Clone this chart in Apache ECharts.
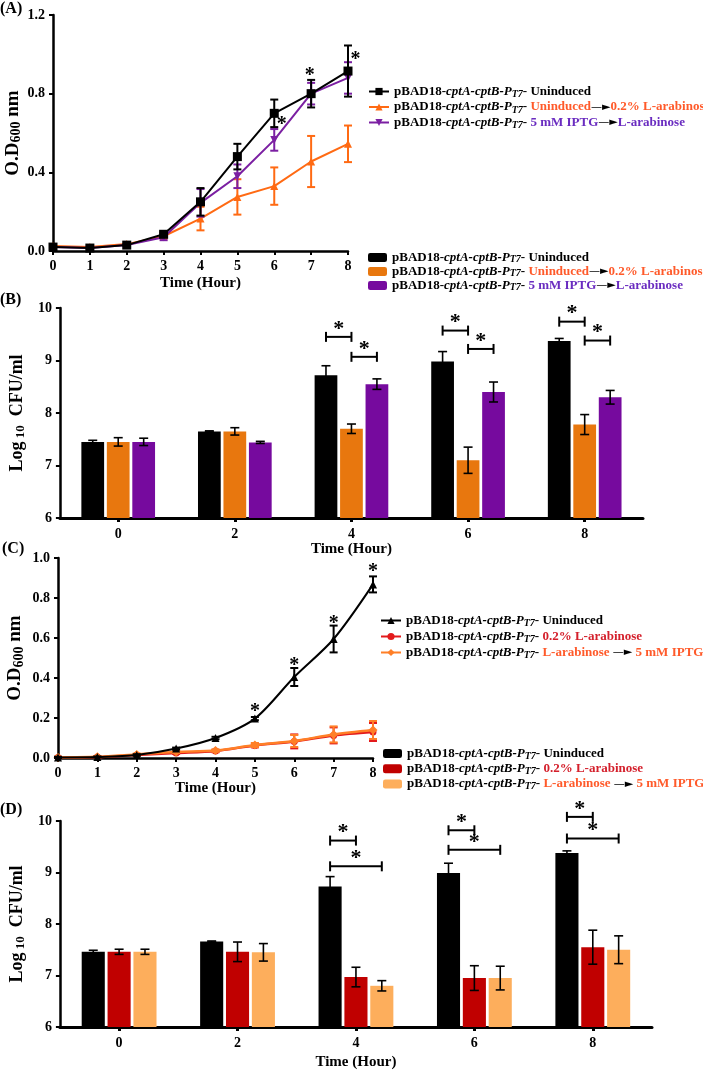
<!DOCTYPE html>
<html>
<head>
<meta charset="utf-8">
<script src="https://cdn.jsdelivr.net/npm/echarts@6/dist/echarts.min.js"></script>
<style>
  html, body { margin: 0; padding: 0; background: #fff; }
  #chart { width: 703px; height: 1071px; }
</style>
</head>
<body>
<div id="chart"></div>
<script>
const SERIF = '"Liberation Serif", "Times New Roman", serif';

// ---- Panel A: O.D600 growth curves ----
const hoursA = [0, 1, 2, 3, 4, 5, 6, 7, 8];
const odA_uninduced     = [0.02, 0.015, 0.03, 0.085, 0.25, 0.48, 0.70, 0.80, 0.915];
const odA_uninduced_err = [0.005, 0.005, 0.005, 0.01, 0.07, 0.065, 0.07, 0.07, 0.13];
const odA_arabinose     = [0.025, 0.02, 0.035, 0.075, 0.165, 0.275, 0.33, 0.455, 0.545];
const odA_arabinose_err = [0.005, 0.005, 0.005, 0.01, 0.06, 0.09, 0.095, 0.13, 0.093];
const odA_iptg          = [0.02, 0.015, 0.03, 0.07, 0.245, 0.38, 0.565, 0.80, 0.88];
const odA_iptg_err      = [0.005, 0.005, 0.005, 0.015, 0.07, 0.06, 0.055, 0.055, 0.08];
const starsA = [[6.2, 0.66], [6.96, 0.91], [8.2, 0.99]];

// ---- Panel B: Log10 CFU/ml ----
const timeCats = ['0', '2', '4', '6', '8'];
const cfuB_uninduced     = [7.45, 7.65, 8.72, 8.98, 9.37];
const cfuB_uninduced_err = [0.03, 0.01, 0.18, 0.19, 0.05];
const cfuB_arabinose     = [7.45, 7.65, 7.70, 7.10, 7.78];
const cfuB_arabinose_err = [0.08, 0.07, 0.09, 0.25, 0.19];
const cfuB_iptg          = [7.45, 7.44, 8.55, 8.40, 8.30];
const cfuB_iptg_err      = [0.07, 0.02, 0.10, 0.19, 0.13];
// [category, y, from bar, to bar]
const bracketsB = [[2, 9.45, 0, 1], [2, 9.07, 1, 2], [3, 9.57, 0, 1], [3, 9.22, 1, 2], [4, 9.74, 0, 1], [4, 9.38, 1, 2]];

// ---- Panel C: O.D600 growth curves ----
const hoursC = [0, 1, 2, 3, 4, 5, 6, 7, 8];
const odC_uninduced     = [0.003, 0.005, 0.015, 0.047, 0.10, 0.197, 0.405, 0.595, 0.868];
const odC_uninduced_err = [0.003, 0.003, 0.004, 0.005, 0.006, 0.008, 0.045, 0.067, 0.04];
const odC_arabinose     = [0.003, 0.005, 0.015, 0.025, 0.035, 0.063, 0.083, 0.113, 0.13];
const odC_arabinose_err = [0.003, 0.003, 0.004, 0.005, 0.006, 0.01, 0.035, 0.04, 0.045];
const odC_switch        = [0.003, 0.006, 0.018, 0.03, 0.037, 0.065, 0.085, 0.118, 0.14];
const odC_switch_err    = [0.003, 0.003, 0.004, 0.005, 0.006, 0.01, 0.03, 0.04, 0.045];
const starsC = [[5, 0.25], [6, 0.48], [7, 0.69], [8, 0.95]];

// ---- Panel D: Log10 CFU/ml ----
const cfuD_uninduced     = [7.46, 7.66, 8.73, 8.99, 9.38];
const cfuD_uninduced_err = [0.03, 0.01, 0.19, 0.19, 0.04];
const cfuD_arabinose     = [7.46, 7.46, 6.97, 6.95, 7.55];
const cfuD_arabinose_err = [0.05, 0.19, 0.19, 0.24, 0.33];
const cfuD_switch        = [7.46, 7.45, 6.80, 6.95, 7.50];
const cfuD_switch_err    = [0.05, 0.17, 0.10, 0.23, 0.27];
const bracketsD = [[2, 9.62, 0, 1], [2, 9.12, 0, 2], [3, 9.82, 0, 1], [3, 9.44, 0, 2], [4, 10.08, 0, 1], [4, 9.66, 0, 2]];

const C_BLACK = '#000000';
const C_ORANGE_LINE = '#FF6A13';
const C_PURPLE_LINE = '#7B1FA2';
const C_ORANGE_BAR = '#E8770E';
const C_PURPLE_BAR = '#760A9E';
const C_RED_LINE = '#E31A1C';
const C_ORANGE2_LINE = '#FF7F27';
const C_RED_BAR = '#C00000';
const C_LIGHT_BAR = '#FDAE5C';

const BAR_FRAC = 0.195;
const BAR_GAP = 0.12;

function makeRich(lh) {
  const base = { fontFamily: SERIF, fontWeight: 'bold', fontSize: 13, color: '#000', lineHeight: lh };
  return {
    b: base,
    i: Object.assign({}, base, { fontStyle: 'italic' }),
    s: { fontFamily: SERIF, fontWeight: 'bold', fontStyle: 'italic', fontSize: 10, color: '#000', lineHeight: 9, verticalAlign: 'bottom' },
    o: Object.assign({}, base, { color: '#FF5A2A' }),
    p: Object.assign({}, base, { color: '#6A2CC0' }),
    r: Object.assign({}, base, { color: '#D4202C' }),
    k: { fontFamily: '"DejaVu Sans"', fontSize: 11, color: '#000', lineHeight: lh }
  };
}

const PREFIX = '{b|pBAD18-}{i|cptA-cptB-P}{s|T7}{b|- }';
const ARROW = '{k|\u2014\u25BA}';
const legendLabels = {
  A1: PREFIX + '{b|Uninduced}',
  A2: PREFIX + '{o|Uninduced}' + ARROW + '{o|0.2% L-arabinose}',
  A3: PREFIX + '{p|5 mM IPTG}' + ARROW + '{p|L-arabinose}',
  B1: PREFIX + '{b|Uninduced}',
  B2: PREFIX + '{o|Uninduced}' + ARROW + '{o|0.2% L-arabinose}',
  B3: PREFIX + '{p|5 mM IPTG}' + ARROW + '{p|L-arabinose}',
  C1: PREFIX + '{b|Uninduced}',
  C2: PREFIX + '{r|0.2% L-arabinose}',
  C3: PREFIX + '{o|L-arabinose }' + ARROW + '{o| 5 mM IPTG}',
  D1: PREFIX + '{b|Uninduced}',
  D2: PREFIX + '{r|0.2% L-arabinose}',
  D3: PREFIX + '{o|L-arabinose }' + ARROW + '{o| 5 mM IPTG}'
};

function legendFor(names, left, top, lh, gap, w, h) {
  return {
    orient: 'vertical', left: left, top: top, padding: 0,
    itemWidth: w, itemHeight: h, itemGap: gap,
    data: names,
    formatter: function (name) { return legendLabels[name]; },
    textStyle: { rich: makeRich(lh) },
    selectedMode: false
  };
}

const axisLabelStyle = { fontFamily: SERIF, fontWeight: 'bold', fontSize: 14, color: '#000' };
function nameStyle(size, subSize) {
  return {
    fontFamily: SERIF, fontWeight: 'bold', fontSize: size, color: '#000',
    rich: {
      a: { fontFamily: SERIF, fontWeight: 'bold', fontSize: size, color: '#000', lineHeight: size + 2 },
      s: { fontFamily: SERIF, fontWeight: 'bold', fontSize: subSize, color: '#000', lineHeight: subSize - 2, verticalAlign: 'bottom' }
    }
  };
}

function valueAxis(grid, min, max, interval, digits, extra) {
  return Object.assign({
    type: 'value', gridIndex: grid, min: min, max: max, interval: interval,
    axisLine: { show: true, lineStyle: { color: '#000', width: 2.5 } },
    axisTick: { show: true, length: 4, lineStyle: { color: '#000', width: 2 } },
    axisLabel: Object.assign({ margin: 8, formatter: function (v) { return v.toFixed(digits); } }, axisLabelStyle),
    splitLine: { show: false },
    nameTextStyle: nameStyle(15, 11)
  }, extra || {});
}

function categoryAxis(grid, gap) {
  return {
    type: 'category', gridIndex: grid, data: timeCats,
    axisLine: { show: true, lineStyle: { color: '#000', width: 3 } },
    axisTick: { show: true, alignWithLabel: true, length: 4, lineStyle: { color: '#000', width: 3 } },
    axisLabel: Object.assign({ margin: 9 }, axisLabelStyle),
    name: 'Time (Hour)', nameLocation: 'middle', nameGap: gap,
    nameTextStyle: nameStyle(15, 11)
  };
}

function lineErrorSeries(ax, xs, means, errs, color, cap, z) {
  return {
    type: 'custom', xAxisIndex: ax, yAxisIndex: ax, z: z, silent: true,
    data: xs.map(function (x, i) { return [x, means[i], errs[i]]; }),
    renderItem: function (params, api) {
      const x = api.value(0), m = api.value(1), e = api.value(2);
      const hi = api.coord([x, m + e]), lo = api.coord([x, m - e]);
      const st = { stroke: color, lineWidth: 2 };
      return { type: 'group', children: [
        { type: 'line', shape: { x1: hi[0], y1: hi[1], x2: lo[0], y2: lo[1] }, style: st },
        { type: 'line', shape: { x1: hi[0] - cap / 2, y1: hi[1], x2: hi[0] + cap / 2, y2: hi[1] }, style: st },
        { type: 'line', shape: { x1: lo[0] - cap / 2, y1: lo[1], x2: lo[0] + cap / 2, y2: lo[1] }, style: st }
      ] };
    }
  };
}

function barErrorSeries(ax, means, errs, slot) {
  return {
    type: 'custom', xAxisIndex: ax, yAxisIndex: ax, z: 10, silent: true,
    data: means.map(function (m, i) { return [i, m, errs[i]]; }),
    renderItem: function (params, api) {
      const c = api.value(0), m = api.value(1), e = api.value(2);
      const band = api.size([1, 0])[0];
      const step = band * BAR_FRAC * (1 + BAR_GAP);
      const hi = api.coord([c, m + e]), lo = api.coord([c, m - e]);
      const x = hi[0] + (slot - 1) * step;
      const cap = 9;
      const st = { stroke: '#000', lineWidth: 1.6 };
      return { type: 'group', children: [
        { type: 'line', shape: { x1: x, y1: hi[1], x2: x, y2: lo[1] }, style: st },
        { type: 'line', shape: { x1: x - cap / 2, y1: hi[1], x2: x + cap / 2, y2: hi[1] }, style: st },
        { type: 'line', shape: { x1: x - cap / 2, y1: lo[1], x2: x + cap / 2, y2: lo[1] }, style: st }
      ] };
    }
  };
}

function bracketSeries(ax, brackets) {
  return {
    type: 'custom', xAxisIndex: ax, yAxisIndex: ax, z: 10, silent: true,
    data: brackets,
    renderItem: function (params, api) {
      const p = api.coord([api.value(0), api.value(1)]);
      const band = api.size([1, 0])[0];
      const step = band * BAR_FRAC * (1 + BAR_GAP);
      const x1 = p[0] + (api.value(2) - 1) * step;
      const x2 = p[0] + (api.value(3) - 1) * step;
      const st = { stroke: '#000', lineWidth: 2 };
      return { type: 'group', children: [
        { type: 'line', shape: { x1: x1, y1: p[1], x2: x2, y2: p[1] }, style: st },
        { type: 'line', shape: { x1: x1, y1: p[1] - 5, x2: x1, y2: p[1] + 5 }, style: st },
        { type: 'line', shape: { x1: x2, y1: p[1] - 5, x2: x2, y2: p[1] + 5 }, style: st },
        { type: 'text', x: (x1 + x2) / 2, y: p[1] - 8,
          style: { text: '*', fontFamily: SERIF, fontWeight: 'bold', fontSize: 22, fill: '#000', align: 'center', verticalAlign: 'middle' } }
      ] };
    }
  };
}

function starSeries(ax, stars) {
  return {
    type: 'custom', xAxisIndex: ax, yAxisIndex: ax, z: 12, silent: true,
    data: stars,
    renderItem: function (params, api) {
      const p = api.coord([api.value(0), api.value(1)]);
      return { type: 'text', x: p[0], y: p[1] + 4,
        style: { text: '*', fontFamily: SERIF, fontWeight: 'bold', fontSize: 20, fill: '#000', align: 'center', verticalAlign: 'middle' } };
    }
  };
}

function pairs(xs, ys) { return xs.map(function (x, i) { return [x, ys[i]]; }); }

function barSeries(name, ax, data, color) {
  return {
    name: name, type: 'bar', xAxisIndex: ax, yAxisIndex: ax, data: data,
    barWidth: (BAR_FRAC * 100) + '%', barGap: (BAR_GAP * 100) + '%',
    itemStyle: { color: color }, z: 3
  };
}

const odName = '{a|O.D}{s|600}{a| nm}';
const cfuName = '{a|Log}{s| 10}{a|  CFU/ml}';

const chart = echarts.init(document.getElementById('chart'));
chart.setOption({
  animation: false,
  backgroundColor: '#fff',
  title: [
    { text: '(A)', left: 0, top: 1, padding: 0, textStyle: { fontFamily: SERIF, fontWeight: 'bold', fontSize: 16, color: '#000' } },
    { text: '(B)', left: 0, top: 292, padding: 0, textStyle: { fontFamily: SERIF, fontWeight: 'bold', fontSize: 16, color: '#000' } },
    { text: '(C)', left: 2, top: 541, padding: 0, textStyle: { fontFamily: SERIF, fontWeight: 'bold', fontSize: 16, color: '#000' } },
    { text: '(D)', left: 0, top: 802, padding: 0, textStyle: { fontFamily: SERIF, fontWeight: 'bold', fontSize: 16, color: '#000' } }
  ],
  legend: [
    legendFor(['A1', 'A2', 'A3'], 368, 85, 16, 1, 20, 9),
    legendFor(['B1', 'B2', 'B3'], 368, 251, 14, 0.5, 19, 9),
    legendFor(['C1', 'C2', 'C3'], 380, 614, 16, 1.5, 20, 9),
    legendFor(['D1', 'D2', 'D3'], 383, 747, 16, 0.7, 19, 9)
  ],
  grid: [
    { left: 53, top: 15, width: 295, height: 236 },
    { left: 53, top: 308, width: 590, height: 210 },
    { left: 58, top: 558, width: 315, height: 200 },
    { left: 57, top: 821, width: 595, height: 210 }
  ],
  xAxis: [
    valueAxis(0, 0, 8, 1, 0, { name: 'Time (Hour)', nameLocation: 'middle', nameGap: 25 }),
    categoryAxis(1, 24),
    valueAxis(2, 0, 8, 1, 0, { name: 'Time (Hour)', nameLocation: 'middle', nameGap: 22 }),
    categoryAxis(3, 28)
  ],
  yAxis: [
    valueAxis(0, 0, 1.2, 0.4, 1, { name: odName, nameLocation: 'middle', nameGap: 27, nameTextStyle: nameStyle(19, 14) }),
    valueAxis(1, 6, 10, 1, 0, { name: cfuName, nameLocation: 'middle', nameGap: 26, nameTextStyle: nameStyle(18, 13) }),
    valueAxis(2, 0, 1.0, 0.2, 1, { name: odName, nameLocation: 'middle', nameGap: 32, nameTextStyle: nameStyle(19, 14) }),
    valueAxis(3, 6, 10, 1, 0, { name: cfuName, nameLocation: 'middle', nameGap: 27, nameTextStyle: nameStyle(18, 13) })
  ],
  series: [
    // Panel A
    lineErrorSeries(0, hoursA, odA_arabinose, odA_arabinose_err, C_ORANGE_LINE, 8, 2),
    { name: 'A2', type: 'line', xAxisIndex: 0, yAxisIndex: 0, data: pairs(hoursA, odA_arabinose),
      symbol: 'triangle', symbolSize: 8, lineStyle: { width: 2, color: C_ORANGE_LINE }, itemStyle: { color: C_ORANGE_LINE }, z: 2 },
    lineErrorSeries(0, hoursA, odA_iptg, odA_iptg_err, C_PURPLE_LINE, 8, 3),
    { name: 'A3', type: 'line', xAxisIndex: 0, yAxisIndex: 0, data: pairs(hoursA, odA_iptg),
      symbol: 'triangle', symbolRotate: 180, symbolSize: 8, lineStyle: { width: 2, color: C_PURPLE_LINE }, itemStyle: { color: C_PURPLE_LINE }, z: 3 },
    lineErrorSeries(0, hoursA, odA_uninduced, odA_uninduced_err, C_BLACK, 8, 4),
    { name: 'A1', type: 'line', xAxisIndex: 0, yAxisIndex: 0, data: pairs(hoursA, odA_uninduced),
      symbol: 'rect', symbolSize: 9, lineStyle: { width: 2, color: C_BLACK }, itemStyle: { color: C_BLACK }, z: 4 },
    starSeries(0, starsA),

    // Panel B
    barSeries('B1', 1, cfuB_uninduced, C_BLACK),
    barSeries('B2', 1, cfuB_arabinose, C_ORANGE_BAR),
    barSeries('B3', 1, cfuB_iptg, C_PURPLE_BAR),
    barErrorSeries(1, cfuB_uninduced, cfuB_uninduced_err, 0),
    barErrorSeries(1, cfuB_arabinose, cfuB_arabinose_err, 1),
    barErrorSeries(1, cfuB_iptg, cfuB_iptg_err, 2),
    bracketSeries(1, bracketsB),

    // Panel C
    lineErrorSeries(2, hoursC, odC_arabinose, odC_arabinose_err, C_RED_LINE, 8, 2),
    { name: 'C2', type: 'line', xAxisIndex: 2, yAxisIndex: 2, data: pairs(hoursC, odC_arabinose), smooth: 0.3,
      symbol: 'circle', symbolSize: 7, lineStyle: { width: 2.5, color: C_RED_LINE }, itemStyle: { color: C_RED_LINE }, z: 2 },
    lineErrorSeries(2, hoursC, odC_switch, odC_switch_err, C_ORANGE2_LINE, 8, 3),
    { name: 'C3', type: 'line', xAxisIndex: 2, yAxisIndex: 2, data: pairs(hoursC, odC_switch), smooth: 0.3,
      symbol: 'diamond', symbolSize: 9, lineStyle: { width: 2.5, color: C_ORANGE2_LINE }, itemStyle: { color: C_ORANGE2_LINE }, z: 3 },
    lineErrorSeries(2, hoursC, odC_uninduced, odC_uninduced_err, C_BLACK, 8, 4),
    { name: 'C1', type: 'line', xAxisIndex: 2, yAxisIndex: 2, data: pairs(hoursC, odC_uninduced), smooth: 0.3,
      symbol: 'triangle', symbolSize: 8, lineStyle: { width: 2, color: C_BLACK }, itemStyle: { color: C_BLACK }, z: 4 },
    starSeries(2, starsC),

    // Panel D
    barSeries('D1', 3, cfuD_uninduced, C_BLACK),
    barSeries('D2', 3, cfuD_arabinose, C_RED_BAR),
    barSeries('D3', 3, cfuD_switch, C_LIGHT_BAR),
    barErrorSeries(3, cfuD_uninduced, cfuD_uninduced_err, 0),
    barErrorSeries(3, cfuD_arabinose, cfuD_arabinose_err, 1),
    barErrorSeries(3, cfuD_switch, cfuD_switch_err, 2),
    bracketSeries(3, bracketsD)
  ]
});
</script>
</body>
</html>
